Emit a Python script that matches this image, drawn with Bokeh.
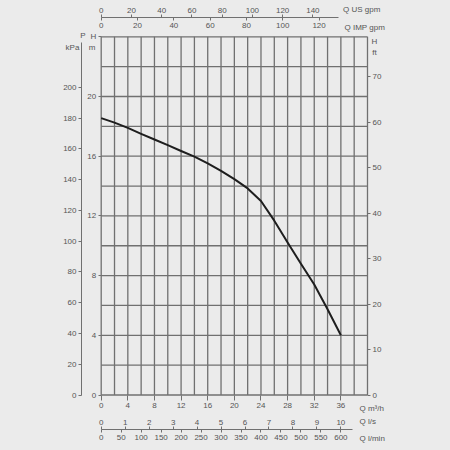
from bokeh.plotting import figure
from bokeh.models import Range1d, LinearAxis, FixedTicker, Label
from bokeh.embed import file_html
from bokeh.resources import INLINE

# pump curve: flow in m3/h, head in m
q_m3h = [0, 2, 4, 6, 8, 10, 12, 14, 16, 18, 20, 22, 24, 26, 28, 30, 32, 34, 36]
h_m = [18.55, 18.25, 17.9, 17.5, 17.12, 16.74, 16.35, 15.97, 15.52, 15.02,
       14.46, 13.84, 13.0, 11.68, 10.22, 8.8, 7.4, 5.75, 4.0]

# tick values of each scale
ticks_m3h = [0, 4, 8, 12, 16, 20, 24, 28, 32, 36]
ticks_usgpm = [0, 20, 40, 60, 80, 100, 120, 140]
ticks_impgpm = [0, 20, 40, 60, 80, 100, 120]
ticks_ls = [0, 1, 2, 3, 4, 5, 6, 7, 8, 9, 10]
ticks_lmin = [0, 50, 100, 150, 200, 250, 300, 350, 400, 450, 500, 550, 600]
ticks_hm = [0, 4, 8, 12, 16, 20, 24]
ticks_kpa = [0, 20, 40, 60, 80, 100, 120, 140, 160, 180, 200]
ticks_ft = [0, 10, 20, 30, 40, 50, 60, 70]
grid_q = list(range(0, 41, 2))
grid_h = list(range(0, 25, 2))

# unit conversions
US_GPM_PER_M3H = 4.4029
IMP_GPM_PER_M3H = 3.6662
LS_PER_M3H = 1 / 3.6
LMIN_PER_M3H = 1000 / 60
KPA_PER_M = 9.7
FT_PER_M = 1 / 0.3048

Q_MAX, H_MAX = 40, 24

# layout in page pixels (bokeh's page template has no body margin)
W = H = 450
GX0, GX1 = 100.7, 367.0
GY0, GY1 = 36.3, 394.5
sx = (GX1 - GX0) / Q_MAX
sy = (GY1 - GY0) / H_MAX


def xd(px):
    return (px - GX0) / sx


def yd(py):
    return (GY1 - py) / sy


BG = "#ebebeb"
GRID = "#707070"
TXT = "#555555"
FONT = "Liberation Sans"
FS = "8px"

p = figure(width=W, height=H, output_backend="svg", toolbar_location=None,
           x_axis_location=None, y_axis_location=None,
           x_range=Range1d(xd(0), xd(W)), y_range=Range1d(yd(H), yd(0)),
           min_border=0, background_fill_color=BG, border_fill_color=BG,
           outline_line_color=None)
p.grid.visible = False

xr = p.x_range
yr = p.y_range
p.extra_x_ranges = {
    "usgpm": Range1d(xr.start * US_GPM_PER_M3H, xr.end * US_GPM_PER_M3H),
    "impgpm": Range1d(xr.start * IMP_GPM_PER_M3H, xr.end * IMP_GPM_PER_M3H),
    "ls": Range1d(xr.start * LS_PER_M3H, xr.end * LS_PER_M3H),
    "lmin": Range1d(xr.start * LMIN_PER_M3H, xr.end * LMIN_PER_M3H),
}
p.extra_y_ranges = {
    "kpa": Range1d(yr.start * KPA_PER_M, yr.end * KPA_PER_M),
    "ft": Range1d(yr.start * FT_PER_M, yr.end * FT_PER_M),
}

# grid
p.segment(x0=grid_q, y0=0, x1=grid_q, y1=H_MAX, line_color=GRID, line_width=1.3)
p.segment(x0=0, y0=grid_h, x1=Q_MAX, y1=grid_h, line_color=GRID, line_width=1.3)

# curve
p.line(q_m3h, h_m, line_color="#1e1e1e", line_width=2, line_join="round")


def add_axis(side, ticks, loc, rng=None, bounds="auto", tick_out=3, standoff=2,
             line=False, overrides=None):
    kw = {}
    if rng is not None:
        kw["x_range_name" if side in ("above", "below") else "y_range_name"] = rng
    ax = LinearAxis(ticker=FixedTicker(ticks=ticks), fixed_location=loc,
                    bounds=bounds, **kw)
    ax.major_tick_in = 0
    ax.major_tick_out = tick_out
    ax.major_tick_line_color = GRID
    ax.minor_tick_line_color = None
    ax.axis_line_color = GRID if line else None
    ax.major_label_standoff = standoff
    ax.major_label_text_font = FONT
    ax.major_label_text_font_size = FS
    ax.major_label_text_color = TXT
    if overrides:
        ax.major_label_overrides = overrides
    p.add_layout(ax, side)
    return ax


# flow scales
add_axis("below", ticks_m3h, 0, tick_out=5, standoff=3)
top_line = yd(17.3)
add_axis("above", ticks_usgpm, top_line, "usgpm",
         bounds=(0, xd(338) * US_GPM_PER_M3H), line=True)
add_axis("below", ticks_impgpm, top_line, "impgpm")
bot_line = yd(429.0)
add_axis("above", ticks_ls, bot_line, "ls")
add_axis("below", ticks_lmin, bot_line, "lmin",
         bounds=(0, xd(352) * LMIN_PER_M3H), line=True)

# head / pressure scales
add_axis("left", ticks_hm, 0, overrides={24: "H"})
add_axis("left", ticks_kpa, xd(81), "kpa",
         bounds=(0, yd(42) * KPA_PER_M), line=True)
add_axis("right", ticks_ft, Q_MAX, "ft")

# unit captions
captions = [
    ("m", 91.7, 46.7, "center"),
    ("P", 82.5, 35.0, "center"),
    ("kPa", 72.0, 47.0, "center"),
    ("H", 374.0, 40.5, "center"),
    ("ft", 374.0, 51.5, "center"),
    ("Q US gpm", 342.5, 9.3, "left"),
    ("Q IMP gpm", 344.0, 26.5, "left"),
    ("Q m³/h", 359.0, 407.7, "left"),
    ("Q l/s", 359.0, 421.0, "left"),
    ("Q l/min", 359.0, 437.7, "left"),
]
for txt, px, py, align in captions:
    p.add_layout(Label(x=xd(px), y=yd(py), text=txt, text_align=align,
                       text_baseline="middle", text_font=FONT,
                       text_font_size=FS, text_color=TXT))

html = file_html(p, INLINE, title="Pump curve")
html = html.replace("<head>", "<head>\n<style>body{background:%s;}</style>" % BG, 1)
open("out.html", "w").write(html)
